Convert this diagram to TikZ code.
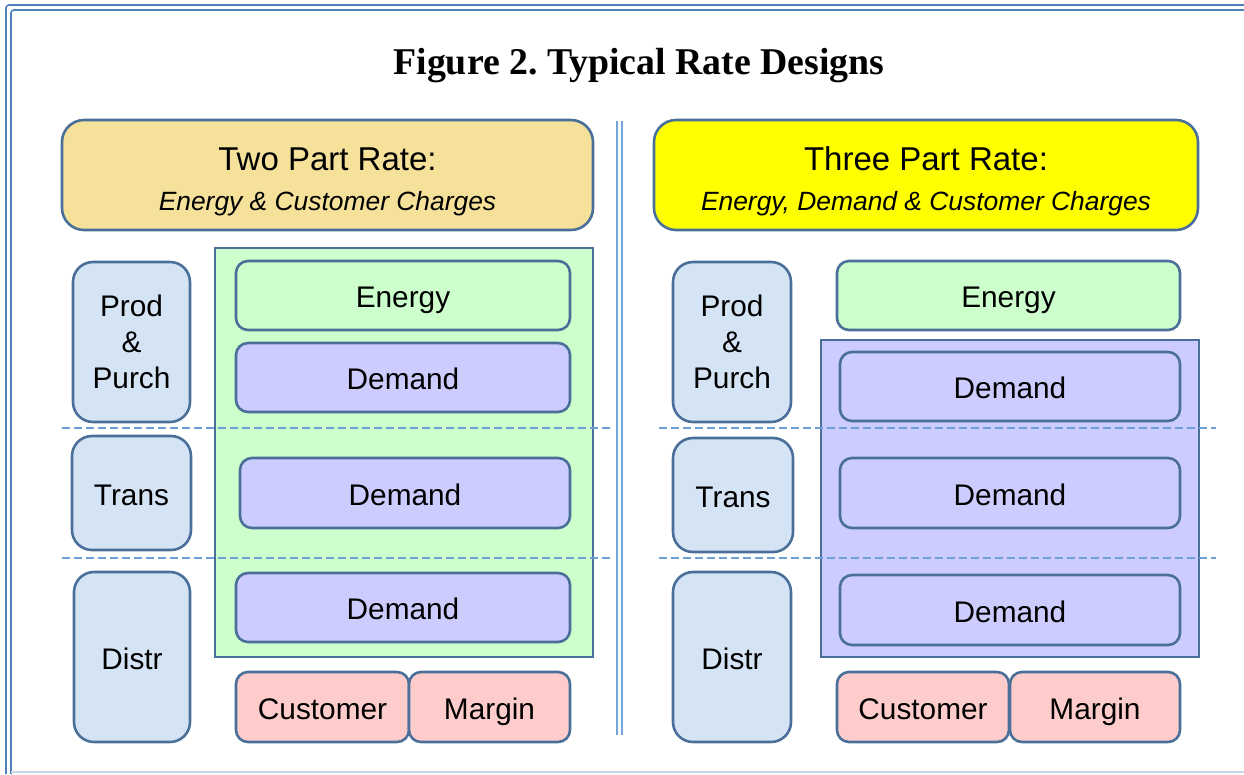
\documentclass[tikz,border=0pt]{standalone}
\usepackage{fontspec}
\setmainfont{Liberation Serif}
\newfontfamily\arialfont{Liberation Sans}
\newcommand\ratesubfont{\fontsize{26.4}{30}\selectfont\itshape}

\definecolor{rimblue}{RGB}{74,112,153}
\definecolor{framblue}{RGB}{79,129,189}
\definecolor{dashblue}{RGB}{108,160,214}
\definecolor{splitblue}{RGB}{118,166,218}
\definecolor{baseline}{RGB}{200,212,232}
\definecolor{headgold}{RGB}{245,225,154}
\definecolor{headyellow}{RGB}{255,255,0}
\definecolor{sideblue}{RGB}{213,228,245}
\definecolor{energygreen}{RGB}{204,255,204}
\definecolor{demandpurple}{RGB}{204,204,255}
\definecolor{custpink}{RGB}{255,204,204}

\begin{document}
\begin{tikzpicture}[x=1pt,y=-1pt,
  base/.style={draw=rimblue, line width=2.6pt, inner sep=0pt, align=center, text=black,
               font=\arialfont\fontsize{29.8}{36}\selectfont},
  oneline/.style={text height=24pt, text depth=0pt},
  tile/.style={base, oneline, rounded corners=12pt},
  sidebox/.style={base, rounded corners=20pt, fill=sideblue},
  headbox/.style={base, rounded corners=22pt},
  headtext/.style={align=center, inner sep=0pt, yshift=-6.5pt,
                   font=\arialfont\fontsize{33}{40}\selectfont},
  panel/.style={base, line width=2.4pt},
  frameline/.style={draw=framblue, line width=1.6pt, rounded corners=3pt},
  splitline/.style={draw=splitblue, line width=1.5pt},
  layerline/.style={draw=dashblue, line width=1.7pt, dash pattern=on 8pt off 4pt}]

\useasboundingbox (0,0) rectangle (1244,774);

% page frame
\coordinate (fa) at (6,774);   \coordinate (fb) at (6,5);   \coordinate (fc) at (1244,5);
\coordinate (fd) at (11,774);  \coordinate (fe) at (11,10); \coordinate (ff) at (1244,10);
\coordinate (fg) at (11,772);  \coordinate (fh) at (1244,772);
\draw[frameline] (fa) -- (fb) -- (fc);
\draw[frameline] (fd) -- (fe) -- (ff);
\draw[draw=baseline, line width=1.5pt] (fg) -- (fh);

% title
\node[font=\fontsize{37.8}{40}\selectfont\bfseries] (title) at (639,66)
  {\frenchspacing Figure 2. Typical Rate Designs};

% central divider
\coordinate (sa) at (617,121); \coordinate (sb) at (617,735);
\coordinate (sc) at (622,121); \coordinate (sd) at (622,735);
\draw[splitline] (sa) -- (sb);
\draw[splitline] (sc) -- (sd);

% headers
\node[headbox, fill=headgold, minimum width=531pt, minimum height=110pt,
      label={[headtext]center:Two Part Rate:\\{\ratesubfont Energy \& Customer Charges}}]
      (headL) at (327.5,175) {};
\node[headbox, fill=headyellow, minimum width=544pt, minimum height=110pt,
      label={[headtext]center:Three Part Rate:\\{\ratesubfont Energy, Demand \& Customer Charges}}]
      (headR) at (926,175) {};

% panels grouping the charges
\node[panel, fill=energygreen, minimum width=378pt, minimum height=409pt] (panelL) at (404,452.5) {};
\node[panel, fill=demandpurple, minimum width=378pt, minimum height=317pt] (panelR) at (1010,498.5) {};

% layer separators
\coordinate (l1a) at (62,428);  \coordinate (l1b) at (610,428);
\coordinate (l2a) at (62,558);  \coordinate (l2b) at (610,558);
\coordinate (r1a) at (659,428); \coordinate (r1b) at (1216,428);
\coordinate (r2a) at (659,558); \coordinate (r2b) at (1216,558);
\draw[layerline] (l1a) -- (l1b);
\draw[layerline] (l2a) -- (l2b);
\draw[layerline] (r1a) -- (r1b);
\draw[layerline] (r2a) -- (r2b);

% left: two part rate
\node[sidebox, minimum width=117pt, minimum height=160pt] (prodL) at (131.5,342) {Prod\\\&\\Purch};
\node[sidebox, oneline, minimum width=119pt, minimum height=114pt] (transL) at (131.5,493) {Trans};
\node[sidebox, oneline, minimum width=116pt, minimum height=170pt] (distrL) at (132,657) {Distr};

\node[tile, fill=energygreen, minimum width=334pt, minimum height=69pt] (energyL) at (403,295.5) {Energy};
\node[tile, fill=demandpurple, minimum width=334pt, minimum height=69pt] (demandLa) at (403,377.5) {Demand};
\node[tile, fill=demandpurple, minimum width=330pt, minimum height=70pt] (demandLb) at (405,493) {Demand};
\node[tile, fill=demandpurple, minimum width=334pt, minimum height=69pt] (demandLc) at (403,607.5) {Demand};
\node[tile, fill=custpink, minimum width=173pt, minimum height=70pt] (custL) at (322.5,707) {Customer};
\node[tile, fill=custpink, minimum width=161pt, minimum height=70pt] (marginL) at (489.5,707) {Margin};

% right: three part rate
\node[sidebox, minimum width=118pt, minimum height=160pt] (prodR) at (732,342) {Prod\\\&\\Purch};
\node[sidebox, oneline, minimum width=120pt, minimum height=114pt] (transR) at (733,495) {Trans};
\node[sidebox, oneline, minimum width=118pt, minimum height=170pt] (distrR) at (732,657) {Distr};

\node[tile, fill=energygreen, minimum width=343pt, minimum height=69pt] (energyR) at (1008.5,295.5) {Energy};
\node[tile, fill=demandpurple, minimum width=340pt, minimum height=69pt] (demandRa) at (1010,386.5) {Demand};
\node[tile, fill=demandpurple, minimum width=340pt, minimum height=70pt] (demandRb) at (1010,493) {Demand};
\node[tile, fill=demandpurple, minimum width=340pt, minimum height=70pt] (demandRc) at (1010,610) {Demand};
\node[tile, fill=custpink, minimum width=172pt, minimum height=70pt] (custR) at (923,707) {Customer};
\node[tile, fill=custpink, minimum width=170pt, minimum height=70pt] (marginR) at (1095,707) {Margin};

\end{tikzpicture}
\end{document}
